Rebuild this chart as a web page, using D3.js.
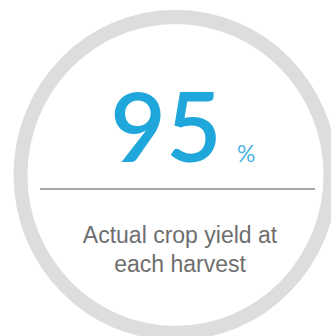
<!DOCTYPE html>
<html>
<head>
<meta charset="utf-8">
<script src="https://cdn.jsdelivr.net/npm/d3@7/dist/d3.min.js"></script>
<style>
  html, body { margin: 0; padding: 0; background: #ffffff; }
  svg { display: block; }
</style>
</head>
<body>
<svg id="chart" width="331" height="336"></svg>
<script>
// ---- data ----
const metricValues = [95];
const metricUnits = ["%"];
const labelLines = ["Actual crop yield at", "each harvest"];
const gaugeDomain = [0, 100];

// ---- drawing ----
const svg = d3.select("#chart");
const cx = 175.5, cy = 175;

const angle = d3.scaleLinear().domain(gaugeDomain).range([0, 2 * Math.PI]);

const ring = svg.append("g")
  .attr("transform", `translate(${cx},${cy}) scale(1,1.02)`);

ring.append("path")
  .attr("d", d3.arc()
    .innerRadius(148)
    .outerRadius(162)
    .startAngle(angle(gaugeDomain[0]))
    .endAngle(angle(gaugeDomain[1]))())
  .attr("fill", "#dcdddd");

// big number
svg.append("text")
  .attr("x", 166)
  .attr("y", 162)
  .attr("text-anchor", "middle")
  .attr("font-family", "Lato, 'Noto Sans', sans-serif")
  .attr("font-weight", 600)
  .attr("font-size", 96)
  .attr("fill", "#1fa6da")
  .text(metricValues[0]);

svg.append("text")
  .attr("x", 237)
  .attr("y", 162)
  .attr("font-family", "Lato, 'Noto Sans', sans-serif")
  .attr("font-size", 23)
  .attr("fill", "#4fb4e4")
  .text(metricUnits[0]);

// divider
svg.append("line")
  .attr("x1", 40).attr("x2", 315)
  .attr("y1", 189).attr("y2", 189)
  .attr("stroke", "#8a8a8a")
  .attr("stroke-width", 1.5);

// label
const lab = svg.append("text")
  .attr("text-anchor", "middle")
  .attr("font-family", "'Liberation Sans', Arial, sans-serif")
  .attr("font-size", 23)
  .attr("fill", "#6e6e6e");

lab.selectAll("tspan")
  .data(labelLines)
  .join("tspan")
  .attr("x", 180)
  .attr("y", (d, i) => 243 + i * 29)
  .text(d => d);
</script>
</body>
</html>
